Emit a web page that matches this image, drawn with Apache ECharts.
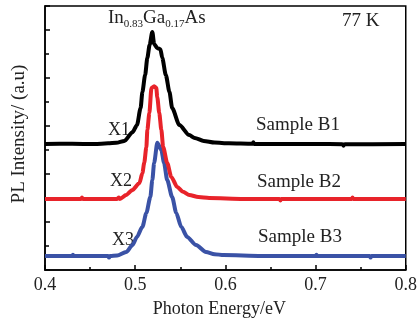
<!DOCTYPE html>
<html>
<head>
<meta charset="utf-8">
<script src="https://cdn.jsdelivr.net/npm/echarts@6/dist/echarts.min.js"></script>
<style>html,body{margin:0;padding:0;background:#fff}#c{width:420px;height:323px}</style>
</head>
<body>
<div id="c"></div>
<script>
// Sample B1 (black)
var b1Energy = [0.400,0.430,0.455,0.470,0.479,0.488,0.497,0.502,0.506,0.508,0.511,0.5135,0.516,0.519,0.521,0.5245,0.528,0.530,0.534,0.538,0.541,0.549,0.560,0.566,0.576,0.588,0.604,0.630,0.631,0.632,0.700,0.730,0.731,0.732,0.800];
var b1Intensity = [2.625,2.63,2.625,2.64,2.65,2.69,2.87,3.02,3.375,3.71,4.06,4.42,4.69,4.96,4.71,4.62,4.60,4.42,4.06,3.71,3.375,3.02,2.81,2.75,2.69,2.655,2.64,2.63,2.66,2.625,2.625,2.62,2.59,2.62,2.625];
// Sample B2 (red)
var b2Energy = [0.400,0.440,0.441,0.442,0.480,0.482,0.483,0.490,0.497,0.5047,0.508,0.510,0.5124,0.5135,0.5157,0.518,0.521,0.5234,0.5245,0.5267,0.529,0.531,0.5355,0.540,0.5466,0.553,0.560,0.570,0.582,0.620,0.660,0.661,0.662,0.740,0.741,0.742,0.800];
var b2Intensity = [1.48,1.48,1.51,1.48,1.48,1.51,1.48,1.5625,1.667,1.81,2.02,2.23,2.5625,2.92,3.27,3.79,3.83,3.79,3.60,3.27,2.92,2.5625,2.23,1.94,1.73,1.63,1.5625,1.52,1.50,1.48,1.48,1.45,1.48,1.48,1.51,1.48,1.48];
// Sample B3 (blue)
var b3Energy = [0.400,0.430,0.431,0.432,0.470,0.471,0.472,0.480,0.490,0.497,0.502,0.508,0.5124,0.5168,0.519,0.521,0.5245,0.529,0.532,0.5355,0.541,0.5455,0.551,0.5576,0.5675,0.5785,0.588,0.598,0.640,0.700,0.701,0.702,0.760,0.761,0.762,0.800];
var b3Intensity = [0.29,0.29,0.32,0.29,0.29,0.26,0.29,0.30,0.375,0.52,0.69,0.90,1.19,1.52,1.875,2.23,2.65,2.50,2.23,1.875,1.52,1.19,0.90,0.69,0.52,0.375,0.33,0.31,0.29,0.29,0.32,0.29,0.29,0.26,0.29,0.29];

var xTicks = [0.4,0.5,0.6,0.7,0.8];
var sampleNames = ['Sample B1','Sample B2','Sample B3'];
var markerNames = ['X1','X2','X3'];

function pairs(xs, ys){ return xs.map(function(x,i){ return [x, ys[i]]; }); }

var FONT = '"Liberation Serif", "Times New Roman", serif';
var chart = echarts.init(document.getElementById('c'), null, {renderer:'canvas'});
var colors = ['#000000','#e8232a','#3a52a6'];

chart.setOption({
  animation:false,
  backgroundColor:'#ffffff',
  grid:{left:45,right:12,top:6,bottom:53,show:true,borderColor:'#000',borderWidth:1.5,containLabel:false},
  xAxis:{
    type:'value',min:0.4,max:0.8,interval:0.1,
    name:'Photon Energy/eV',nameLocation:'middle',nameGap:30,
    nameTextStyle:{fontFamily:FONT,fontSize:18,color:'#222',padding:[0,12,0,0]},
    axisLine:{lineStyle:{color:'#000',width:1.5}},
    axisTick:{inside:true,length:5,lineStyle:{color:'#000',width:1.5}},
    minorTick:{show:true,splitNumber:2,length:3,lineStyle:{color:'#000',width:1.5}},
    splitLine:{show:false},
    axisLabel:{fontFamily:FONT,fontSize:18,color:'#222',margin:6,
      formatter:function(v){ var t = xTicks.filter(function(k){return Math.abs(k-v)<1e-6;}); return t.length? t[0].toFixed(1):''; }}
  },
  yAxis:{
    type:'value',min:0,max:5.5,interval:1,
    axisLine:{lineStyle:{color:'#000',width:1.5}},
    axisTick:{inside:true,length:5,lineStyle:{color:'#000',width:1.5}},
    minorTick:{show:true,splitNumber:2,length:4,lineStyle:{color:'#000',width:1.5}},
    splitLine:{show:false},
    axisLabel:{show:false}
  },
  series:[
    {type:'line',data:pairs(b1Energy,b1Intensity),showSymbol:false,smooth:0.25,smoothMonotone:'x',lineStyle:{color:colors[0],width:4},z:3},
    {type:'line',data:pairs(b2Energy,b2Intensity),showSymbol:false,smooth:0.25,smoothMonotone:'x',lineStyle:{color:colors[1],width:4},z:2},
    {type:'line',data:pairs(b3Energy,b3Intensity),showSymbol:false,smooth:0.25,smoothMonotone:'x',lineStyle:{color:colors[2],width:4},z:1}
  ],
  graphic:[
    {type:'text',x:19,y:134,rotation:Math.PI/2,style:{text:'PL Intensity/ (a.u)',fontFamily:FONT,fontSize:19,fill:'#222',align:'center',verticalAlign:'middle'}},
    {type:'text',left:108,top:9,style:{
      text:'{m|In}{s|0.83}{m|Ga}{s|0.17}{m|As}',
      rich:{m:{fontFamily:FONT,fontSize:19,fill:'#222',verticalAlign:'bottom'},
            s:{fontFamily:FONT,fontSize:11,fill:'#222',verticalAlign:'bottom',padding:[0,0,-2,0]}}}},
    {type:'text',left:342,top:12,style:{text:'77 K',fontFamily:FONT,fontSize:19,fill:'#222'}},
    {type:'text',left:256,top:116,style:{text:sampleNames[0],fontFamily:FONT,fontSize:19,fill:'#222'}},
    {type:'text',left:257,top:173,style:{text:sampleNames[1],fontFamily:FONT,fontSize:19,fill:'#222'}},
    {type:'text',left:258,top:228,style:{text:sampleNames[2],fontFamily:FONT,fontSize:19,fill:'#222'}},
    {type:'text',left:108,top:121,style:{text:markerNames[0],fontFamily:FONT,fontSize:18,fill:'#222'}},
    {type:'text',left:110,top:172,style:{text:markerNames[1],fontFamily:FONT,fontSize:18,fill:'#222'}},
    {type:'text',left:112,top:231,style:{text:markerNames[2],fontFamily:FONT,fontSize:18,fill:'#222'}}
  ]
});
</script>
</body>
</html>
